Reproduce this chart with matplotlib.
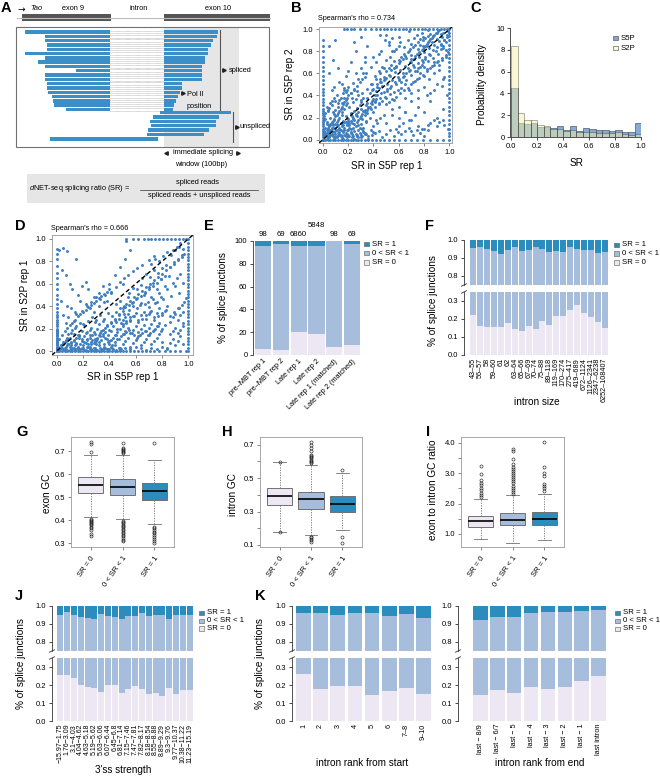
import numpy as np
import matplotlib
matplotlib.use('Agg')
import matplotlib.pyplot as plt
from matplotlib.patches import Rectangle
from matplotlib.ticker import FormatStrFormatter

plt.rcParams['font.family'] = ['Liberation Sans', 'DejaVu Sans']
plt.rcParams['mathtext.fontset'] = 'custom'
plt.rcParams['mathtext.rm'] = 'Liberation Sans'
plt.rcParams['mathtext.it'] = 'Liberation Sans:italic'

W, H = 660, 776

# ---------------- data ----------------
# A: schematic reads, start / end position in the drawing
spliced_start = [25, 45, 45, 47, 47, 25, 45, 38, 45, 76, 45, 45, 47, 47, 48, 52, 53, 54, 66]
spliced_end = [218, 217, 213, 211, 208, 208, 205, 205, 202, 202, 202, 202, 182, 182, 180, 178, 176, 174, 173]
unspliced_start = [160, 153, 150, 151, 148, 147, 50]
unspliced_end = [231, 219, 216, 216, 209, 204, 158]

# B: SR in S5P rep 1 (x) vs rep 2 (y), xxyy in hundredths
B_points = """0203 0305 0402 0506 0604 0708 0803 0907 1005 1109 1206 1310 1404 1512 1608 1711 1806 1914
2009 2113 2207 2315 2411 2518 2612 2716 2809 2920 3014 3119 3211 3322 3417 3524 0512 0715 0918 1116 1320
1502 1704 1902 2103 2305 2501 2704 2906 3103 3306 0410 0613 0811 1014 1218 1415 1617 1821 2019 2224 2321
2526 2729 2825 3028 3226 3431 3533 0825 1027 1230 1522 1728 1933 2130 2434 2637 2840 3036 3238 1002 1304
1607 1909 2210 2508 2813 3110 3416 3720 4012 4218 0620 0923 1525 1831 2338 2744 3142 3546 0316 0219 0121
0427 0330 0735 1140 1438 1843 2048 2451 0102 0204 0306 0108 0211 0314 0503 0705 0902 1103 1307 1501 1709
1905 2111 2302 2514 2703 2911 3208 0407 0609 0813 1011 1213 1409 1613 1816 2017 2222 2419 2623 2721 2931
3034 3327 3629 3833 4037 4135 4340 3538 3742 3945 4140 4348 4552 4749 4955 5150 5358 5554 5761 5957 6163
6360 6567 6765 6970 7168 3630 3935 4237 4433 4642 4939 5144 5347 5643 5850 6055 6252 6458 6654 6862 7059
4046 4350 4555 4857 5062 5265 5468 5671 5866 6072 6275 6478 6674 6880 7077 3850 4158 4462 4766 5072 5375
5680 3828 4130 4432 4735 5038 5341 5636 5945 6247 6550 6845 7152 7455 7760 7273 7478 7675 7881 8079 8285
8483 8688 8886 9091 9289 9493 9690 9895 7582 7786 7990 8192 8394 8596 8794 8997 9198 9396 9597 7766 7970
8173 8371 8577 8774 8980 9178 9382 9585 9788 7362 7565 7868 8264 8667 9070 9472 9775 8058 8455 8860 9263
9657 7292 7495 7897 8399 7087 6790 6484 6188 5882 5592 5286 4990 4680 0560 0872 1265 1550 1858 2270 2680
3065 3375 1090 0585 4025 4520 5015 5522 6012 6525 7018 7530 8025 8535 9020 9528 6538 7042 7545 8048 8542
9050 9555 6030 5528 4822 4315 5032 2545 2855 3260 2062 1745 1352 0948 0745 2588 3093 3585 4075 4270 5580
6085 5095 4595 8010 8515 9012 9518 7512 7008
0104 0206 0309 0411 0513 0614 0716 0817 0919 1021 1122 1224 1326 1428 1530 1632 1734 1836 1938 2040
0301 0502 0704 0901 1102 1305 1403 1601 1803 2004 2206 2403 2605 2802 3004 3207 3405 3603 3809 4007
0609 0711 1008 1113 1311 1514 1716 1913 2115 2217 2420 2622 2818 3021 3123 3325 3527 3730 3932 4134
0118 0224 0426 0529 0633 0731 0938 1035 1233 1336 1642 1747 1945 2242 2546 2749 2952 3155 3357 3460
2703 3002 3305 3601 3904 4106 4408 4702 5005 5309 5603 5907 6205 6508 6811 7104 7409 7706 8003 8309
4244 4447 4652 4854 5056 5259 5463 5665 5867 6069 6171 6373 6576 6779 6982 7184 7386 7588 7791 7993
4538 4843 5146 5449 5752 6054 6357 6660 6963 7266 7569 7872 8175 8478 8781 9084 9387 9690 9893 9998
8692 8895 9097 9299 8489 8287 8084 7985 9386 9583 9781 9979 7073 7376 7679 7982 8185 8388 8591 8794
5234 5537 5839 6142 6445 6747 7050 7353 7656 7959 8262 8565 8868 9171 9474 9777 3950 4255 4560 4865
1533 1738 2242 2660 3370 3866 4478 5288 6093 6898 7070 7462 8066 8870 9268 6020 6525 7035 7538 8240
8845 9449 9840 5810 6315 6818 7322 7810 8313 8818 9216 9613 9910"""
B_left_y = [0, 2, 4, 6, 8, 10, 12, 14, 16, 18, 20, 22, 24, 26, 28, 31, 34, 37, 40, 43, 46, 50, 54, 58, 62, 66,
            70, 75, 80, 85, 90]
B_bottom_x = [0, 2, 4, 6, 8, 10, 12, 14, 16, 18, 20, 22, 24, 26, 28, 30, 33, 36, 39, 42, 45, 48, 52, 56, 60,
              65, 70, 74, 79, 85, 90, 95]
B_top_x = [17, 19, 22, 25, 29, 33, 38, 42, 45, 48, 51, 54, 57, 60, 63, 66, 69, 72, 75, 78, 81, 84, 87, 90, 93,
           96, 98, 100]
B_right_y = [0, 3, 6, 10, 14, 18, 22, 26, 30, 34, 38, 42, 46, 50, 54, 58, 62, 66, 70, 74, 78, 82, 86, 90, 94, 97]

# D: SR in S5P rep 1 (x) vs S2P rep 1 (y)
D_points = """0201 0402 0603 0801 1004 1202 1405 1603 1806 2002 2207 2404 2608 2803 3009 3205 3410 3604 3811
4006 0305 0507 0709 0906 1108 1310 1507 1712 1909 2113 2311 2514 2710 2915 3112 3316 3513 3717 3914 4118
0403 0601 0805 1001 1203 1401 1604 1802 2005 2201 2406 2602 2807 3001 3208 3402 3606 3802 4009 4203 0710
1012 1315 1614 1918 2216 2519 2817 3120 3418 3721 4019 4322 4620 4925 0915 1219 1522 1825 2123 2427 2730
3028 3332 3629 3934 4231 4535 4838 5133 4205 4408 4611 4803 5006 5209 5412 5604 5807 6010 6213 6405 6608
6811 7014 7206 7409 7612 7815 8008 4414 4617 4820 5015 5218 5421 5616 5819 6022 6217 6420 6623 6818 7021
7224 7419 7622 7825 8020 8223 4526 4729 5028 5230 5433 5627 5831 6034 6228 6432 6635 6829 7033 7236 7430
7634 7838 8032 8236 8440 8403 8607 8811 9005 9209 9413 9606 8615 8818 9021 9216 9419 9622 8626 8830 9033
9228 9432 9635 4542 4845 5140 5448 5743 6046 6341 6650 6944 7248 7543 7852 8146 8455 8749 9058 9352 9661
5552 5856 6155 6459 6753 7057 7361 7655 7964 8258 8567 8861 9165 9469 6565 6869 7166 7472 7770 8074 8377
8675 8979 9282 9586 7278 7582 7880 8185 8488 8786 9090 9393 9691 5537 5840 6138 6443 6742 7039 7346 7644
7948 0290 0592 0889 1582 0472 0768 1060 1255 1650 1958 2262 2455 2848 3252 3558 3845 4152 2538 2242 1845
1435 1138 0840 0532 0345 2835 3240 3644 4060 4468 4875 5060 5282 5690 5398 0102 0201 0303 0502 0704 0906
1101 1303 1502 1701 1903 2101 2304 2502 2701 2903 3101 3303 3501 3703 3902 4104 4302 4501 4703 4902 0508
0812 1116 1421 1713 2024 2317 2621 2926 3224 3527 3822 4126 4429 4732 5024 5327 5630
0103 0305 0506 0709 0911 1107 1309 1512 1714 1911 2108 2310 2512 2714 2909 3111 3313 3515 3712 3908
4110 4312 4514 4711 4913 5115 5317 5519 5716 5914 6112 6314 6516 6718 6914 7116 7318 7520 7722 7918
0104 0608 1105 1506 2003 2504 3006 3502 4002 4405 4801 5203 5602 6004 6403 6801 7203 7602 8004 8402
0211 0414 0618 0821 1023 1225 1428 1631 1833 2035 2237 2439 2641 2843 3045 3247 3449 3651 3853 4055
5022 5325 5628 5931 6226 6529 6832 7135 7428 7731 8034 8337 8631 8935 9238 9541 9744 9847 9338 9625
5038 5342 5645 5948 6251 6554 6857 7160 7463 7766 8069 8372 8675 8978 9281 9584 9787 8890 9193 9496
0725 0930 1327 1533 1936 2340 2644 3048 3346 3750 4153 4557 4862 5165 5468 5871 6174 6577 7081 7485
2606 2911 3214 3519 3823 4125 4428 4733 5036 5239 5541 5844 6147 6449 6752 7055 7358 7661 7964 8267"""
D_left_y = [0, 1, 2, 3, 4, 5, 6, 7, 8, 9, 10, 11, 12, 13, 14, 15, 16, 17, 18, 19, 20, 22, 24, 26, 28, 30, 32,
            35, 38, 42, 46, 50, 55, 60, 65, 70, 76, 82, 87, 91]
D_bottom_x = [0, 2, 4, 6, 8, 10, 12, 14, 16, 18, 20, 22, 24, 26, 28, 30, 32, 34, 36, 38, 40, 42, 44, 46, 48,
              50, 53, 56, 59, 62, 65, 68, 71, 74, 78, 82, 86, 90, 94, 98]
D_top_x = [53, 58, 62, 66, 69, 72, 75, 78, 81, 84, 87, 90, 93, 96, 98, 100]
D_right_y = [0, 3, 6, 9, 12, 15, 18, 21, 24, 27, 30, 33, 36, 39, 42, 45, 48, 51, 54, 57, 60, 63, 66, 69, 72,
             75, 78, 81, 84, 87, 90, 93, 96]

# C: probability density of SR, 20 bins
c_s5p = [4.46, 1.30, 1.20, 1.25, 0.90, 0.95, 0.85, 1.00, 0.62, 1.05, 0.55, 0.85, 0.70, 0.68, 0.62,
         0.55, 0.60, 0.45, 0.48, 1.30]
c_s2p = [8.37, 2.20, 1.55, 1.55, 1.10, 1.05, 0.75, 0.70, 0.55, 0.60, 0.45, 0.45, 0.45, 0.38, 0.38,
         0.38, 0.42, 0.30, 0.20, 0.25]

# E: % of splice junctions per sample
e_labels = ['pre\u2013MBT rep 1', 'pre\u2013MBT rep 2', 'Late rep 1', 'Late rep 2',
            'Late rep 1 (matched)', 'Late rep 2 (matched)']
e_sr0 = [5.2, 4.4, 19.8, 18.4, 7.0, 8.7]
e_upper = [95.3, 97.4, 96.0, 95.3, 100.0, 97.4]
e_counts = ['98', '69', '6860', '5848', '98', '69']

# F: by intron size
f_labels = ['43\u201355', '56\u201357', '58', '59\u201360', '61', '62', '63\u201364', '65\u201366', '67\u201369',
            '70\u201374', '75\u201388', '89\u2013118', '119\u2013169', '170\u2013274', '275\u2013417',
            '419\u2013689', '672\u20131124', '1126\u20132341', '2347\u20136238', '6252\u2013108407']
f_sr0 = [0.22, 0.16, 0.155, 0.155, 0.155, 0.175, 0.145, 0.135, 0.16, 0.145, 0.19, 0.165, 0.215, 0.215,
         0.25, 0.275, 0.235, 0.21, 0.185, 0.15]
f_upper = [0.955, 0.96, 0.95, 0.94, 0.925, 0.945, 0.96, 0.94, 0.945, 0.96, 0.95, 0.935, 0.94, 0.935,
           0.96, 0.95, 0.945, 0.945, 0.93, 0.935]

# G/H/I: box plot statistics for SR = 0, 0 < SR < 1, SR = 1
box_labels = ['SR = 0', '0 < SR < 1', 'SR = 1']
g_q1 = [0.516, 0.509, 0.487]
g_med = [0.552, 0.545, 0.526]
g_q3 = [0.588, 0.578, 0.563]
g_lo = [0.412, 0.404, 0.383]
g_hi = [0.684, 0.684, 0.663]
g_fliers = [[0.33, 0.34, 0.355, 0.365, 0.372, 0.378, 0.383, 0.388, 0.392, 0.396, 0.40, 0.405, 0.696, 0.729, 0.739],
            [0.308, 0.315, 0.322, 0.33, 0.337, 0.343, 0.35, 0.356, 0.362, 0.368, 0.374, 0.38, 0.386, 0.392,
             0.397, 0.69, 0.695, 0.70, 0.705, 0.71, 0.715, 0.735],
            [0.30, 0.31, 0.318, 0.326, 0.334, 0.342, 0.35, 0.358, 0.365, 0.37, 0.735]]
h_q1 = [0.339, 0.316, 0.298]
h_med = [0.393, 0.373, 0.345]
h_q3 = [0.439, 0.419, 0.393]
h_lo = [0.18, 0.16, 0.19]
h_hi = [0.594, 0.578, 0.533]
h_fliers = [[0.176, 0.598],
            [0.12, 0.13, 0.137, 0.145, 0.15, 0.588, 0.595, 0.602, 0.61, 0.618, 0.625, 0.632, 0.638, 0.66, 0.68,
             0.70, 0.718],
            [0.114, 0.145, 0.55]]
i_q1 = [1.24, 1.28, 1.30]
i_med = [1.44, 1.46, 1.49]
i_q3 = [1.60, 1.69, 1.71]
i_lo = [0.84, 0.69, 0.80]
i_hi = [2.15, 2.29, 2.31]
i_fliers = [[2.2, 2.28, 2.36, 2.44, 2.52, 2.6, 2.68, 2.77, 2.96, 3.24],
            [2.31, 2.38, 2.45, 2.52, 2.59, 2.66, 2.73, 2.8, 2.87, 2.94, 3.01, 3.08, 3.14, 3.2, 3.3, 3.45, 3.73,
             3.81],
            [2.42, 2.5, 2.57, 2.64, 2.91, 3.02, 3.21, 4.02]]

# J: by 3'ss strength
j_labels = ['\u221215.97\u22121.75', '1.76\u22123.09', '3.1\u22124.03', '4.04\u22124.62', '4.63\u22125.18',
            '5.19\u22125.62', '5.63\u22126.06', '6.07\u22126.44', '6.45\u22126.8', '6.81\u22127.14',
            '7.15\u22127.46', '7.47\u22127.81', '7.82\u22128.17', '8.18\u22128.54', '8.55\u22128.88',
            '8.89\u22129.29', '9.3\u22129.76', '9.77\u221210.37', '10.38\u221211.22', '11.23\u221215.19']
j_sr0 = [0.254, 0.257, 0.239, 0.198, 0.189, 0.183, 0.161, 0.198, 0.20, 0.157, 0.176, 0.196, 0.178, 0.148,
         0.155, 0.137, 0.185, 0.152, 0.174, 0.172]
j_upper = [0.948, 0.967, 0.948, 0.939, 0.935, 0.93, 0.957, 0.943, 0.939, 0.93, 0.943, 0.944, 0.963, 0.944,
           0.952, 0.952, 0.93, 0.948, 0.952, 0.952]

# K: by intron rank
ks_labels = ['1', '2', '3', '4', '5', '6', '7\u20138', '9\u201310']
ks_sr0 = [0.263, 0.18, 0.193, 0.195, 0.145, 0.164, 0.182, 0.149]
ks_upper = [0.963, 0.961, 0.952, 0.963, 0.963, 0.946, 0.954, 0.933]
ke_labels = ['last \u2212 8/9', 'last \u2212 6/7', 'last \u2212 5', 'last \u2212 4', 'last \u2212 3',
             'last \u2212 2', 'last \u2212 1', 'last intron']
ke_sr0 = [0.145, 0.175, 0.158, 0.188, 0.18, 0.188, 0.221, 0.25]
ke_upper = [0.922, 0.939, 0.939, 0.961, 0.967, 0.969, 0.97, 0.98]

# ---------------- style ----------------
C0, C1, C2 = '#ece7f2', '#a6bddb', '#2b8cbe'
READ = '#3b8fc9'
DOT = '#3f80bf'
FS_LAB = 7.2
FS_TICK = 5.5
FS_LEG = 5.6

fig = plt.figure(figsize=(W / 100, H / 100), dpi=100)


def px_axes(x0, y0, x1, y1, **kw):
    return fig.add_axes([x0 / W, 1 - y1 / H, (x1 - x0) / W, (y1 - y0) / H], **kw)


ov = px_axes(0, 0, W, H, zorder=10)
ov.set_xlim(0, W)
ov.set_ylim(H, 0)
ov.axis('off')
ov.patch.set_visible(False)


def txt(x, y, s, size=FS_LAB, **kw):
    kw.setdefault('ha', 'center')
    kw.setdefault('va', 'center')
    ov.text(x, y, s, fontsize=size, **kw)


def sr_legend(x, y, dy):
    for i, (c, lab) in enumerate(zip([C2, C1, C0], ['SR = 1', '0 < SR < 1', 'SR = 0'])):
        ov.add_patch(Rectangle((x, y + i * dy - 2.3), 4.6, 4.6, fc=c, ec='#555555', lw=0.4))
        ov.text(x + 8, y + i * dy, lab, fontsize=FS_LEG, va='center', ha='left')


def parse_pairs(s):
    toks = s.split()
    return (np.array([int(t[:2]) for t in toks]) / 100, np.array([int(t[2:]) for t in toks]) / 100)


# ---------------- A: schematic ----------------
axA = px_axes(0, 0, 275, 210)
axA.set_xlim(0, 275)
axA.set_ylim(210, 0)
axA.axis('off')
axA.plot([17, 270], [17.5, 17.5], color='#bdbdbd', lw=0.8)
axA.add_patch(Rectangle((22, 14), 89, 7, color='#555555', lw=0))
axA.add_patch(Rectangle((164, 14), 106, 7, color='#555555', lw=0))
axA.text(17, 9, '\u2192', fontsize=6.5, va='center', family=['DejaVu Sans'])
axA.text(30, 9, 'Tao', fontsize=5.3, style='italic', va='center')
axA.text(73, 9, 'exon 9', fontsize=5.3, ha='center', va='center')
axA.text(139, 9, 'intron', fontsize=5.3, ha='center', va='center')
axA.text(218, 9, 'exon 10', fontsize=5.3, ha='center', va='center')
axA.add_patch(Rectangle((164, 27), 75, 120, color='#e6e6e6', lw=0))
ys = 32 + 4.3 * np.arange(len(spliced_start))
axA.barh(ys, 110 - np.array(spliced_start), left=spliced_start, height=3.4, color=READ)
axA.barh(ys, np.array(spliced_end) - 164, left=164, height=3.4, color=READ)
axA.hlines(ys - 1.2, 110, 164, colors='#8a8a8a', linestyles=(0, (1, 1)), lw=0.4)
axA.hlines(ys + 1.2, 110, 164, colors='#8a8a8a', linestyles=(0, (1, 1)), lw=0.4)
yu = 112.5 + 4.4 * np.arange(len(unspliced_start))
axA.barh(yu, np.array(unspliced_end) - np.array(unspliced_start), left=unspliced_start, height=3.4, color=READ)
axA.add_patch(Rectangle((16, 27), 253, 120, fill=False, ec='#707070', lw=0.8))
axA.plot([183], [93], marker='>', ms=2.5, color='#222222')
axA.text(187, 95, 'Pol II', fontsize=5.3, va='center')
axA.text(187, 106, 'position', fontsize=5.3, va='center')
axA.plot([220, 220], [30, 110], color='#555555', lw=0.8)
axA.plot([223.5], [70], marker='>', ms=2.5, color='#222222')
axA.text(229, 70, 'spliced', fontsize=5.3, va='center')
axA.plot([233, 233], [112, 142], color='#555555', lw=0.8)
axA.plot([236.5], [127], marker='>', ms=2.5, color='#222222')
axA.text(240, 127, 'unspliced', fontsize=5.3, va='center')
axA.plot([166], [153], marker='<', ms=2.5, color='#222222')
axA.plot([238], [153], marker='>', ms=2.5, color='#222222')
axA.text(203, 153, 'immediate splicing', fontsize=5.3, ha='center', va='center')
axA.text(201, 164, 'window (100bp)', fontsize=5.3, ha='center', va='center')
axA.add_patch(Rectangle((27, 174), 238, 29, color='#e6e6e6', lw=0))
axA.text(29, 188.5, r'$\it{d}$NET-seq splicing ratio (SR) =', fontsize=5.3, va='center')
axA.text(198, 183, 'spliced reads', fontsize=5.3, ha='center', va='center')
axA.plot([140, 258], [189.5, 189.5], color='#333333', lw=0.5)
axA.text(199, 195.5, 'spliced reads + unspliced reads', fontsize=5.3, ha='center', va='center')


# ---------------- B and D: scatter ----------------
def scatter_panel(rect, pts, left_y, bottom_x, top_x, right_y, lim):
    ax = px_axes(*rect)
    x, y = parse_pairs(pts)
    ly = np.array(left_y) / 100
    bx = np.array(bottom_x) / 100
    tx = np.array(top_x) / 100
    ry = np.array(right_y) / 100
    xs = np.concatenate([x, np.zeros_like(ly), bx, tx, np.ones_like(ry)])
    yv = np.concatenate([y, ly, np.zeros_like(bx), np.ones_like(tx), ry])
    ax.scatter(xs, yv, s=4.5, c=DOT, lw=0, zorder=2)
    ax.plot([lim[0], lim[1]], [lim[0], lim[1]], color='k', lw=1.0, ls=(0, (3, 2)), zorder=3)
    ax.set_xlim(*lim)
    ax.set_ylim(*lim)
    t = np.arange(0, 1.01, 0.2)
    ax.set_xticks(t)
    ax.set_yticks(t)
    ax.xaxis.set_major_formatter(FormatStrFormatter('%.1f'))
    ax.yaxis.set_major_formatter(FormatStrFormatter('%.1f'))
    ax.tick_params(length=2.5, width=0.5, labelsize=FS_TICK, pad=1.5, color='#555555')
    for s in ax.spines.values():
        s.set_color('#9a9a9a')
        s.set_linewidth(0.6)
    return ax


scatter_panel((319, 27, 452, 143), B_points, B_left_y, B_bottom_x, B_top_x, B_right_y, (-0.03, 1.02))
txt(318, 19, "Spearman's rho = 0.734", size=5.2, ha='left')
txt(290, 84, 'SR in S5P rep 2', rotation=90)
txt(387, 166, 'SR in S5P rep 1')

scatter_panel((52, 235, 193, 355), D_points, D_left_y, D_bottom_x, D_top_x, D_right_y, (-0.035, 1.035))
txt(51, 229, "Spearman's rho = 0.666", size=5.2, ha='left')
txt(25, 295, 'SR in S2P rep 1', rotation=90)
txt(123, 377, 'SR in S5P rep 1')

# ---------------- C: histogram ----------------
axC = px_axes(510, 28, 641, 137)
edges = np.linspace(0, 1, len(c_s5p) + 1)
axC.bar(edges[:-1], c_s5p, width=0.05, align='edge', color='#6f9dd2', alpha=0.85, ec='#444444', lw=0.5)
axC.bar(edges[:-1], c_s2p, width=0.05, align='edge', color='#f5f0aa', alpha=0.5, ec='#222222', lw=0.5)
axC.set_xlim(-0.008, 1.0)
axC.set_ylim(0, 10)
axC.set_xticks(np.arange(0, 1.01, 0.2))
axC.set_yticks(np.arange(0, 11, 2))
axC.xaxis.set_major_formatter(FormatStrFormatter('%.1f'))
axC.spines['top'].set_visible(False)
axC.spines['right'].set_visible(False)
axC.spines['bottom'].set_bounds(0, 1)
for s in ('left', 'bottom'):
    axC.spines[s].set_linewidth(0.6)
    axC.spines[s].set_color('#333333')
axC.tick_params(length=2.5, width=0.5, labelsize=FS_TICK, pad=1.5)
ov.add_patch(Rectangle((613, 35.7), 4.6, 4.6, fc='#7fa6d3', ec='#444444', lw=0.4))
ov.add_patch(Rectangle((613, 45.7), 4.6, 4.6, fc='#fbf9dc', ec='#444444', lw=0.4))
txt(621, 38, 'S5P', size=FS_LEG, ha='left')
txt(621, 48, 'S2P', size=FS_LEG, ha='left')
txt(482, 84, 'Probability density', rotation=90)
txt(577, 163, 'SR')

# ---------------- E: stacked bars ----------------
axE = px_axes(253, 241, 362, 355)
xe = np.arange(len(e_sr0))
e0 = np.array(e_sr0)
eu = np.array(e_upper)
axE.bar(xe, e0, width=0.9, color=C0)
axE.bar(xe, eu - e0, bottom=e0, width=0.9, color=C1)
axE.bar(xe, 100 - eu, bottom=eu, width=0.9, color=C2)
for i, c in enumerate(e_counts):
    axE.text(i, 110.5 if c == '5848' else 103, c, ha='center', va='bottom', fontsize=FS_LEG, clip_on=False)
axE.set_xlim(-0.5 - 1 / 17.7, 5.55)
axE.set_ylim(0, 100)
axE.set_yticks(np.arange(0, 101, 20))
axE.set_xticks(xe)
axE.set_xticklabels(e_labels, rotation=45, ha='right', va='top', rotation_mode='anchor', fontsize=5.3)
axE.tick_params(axis='x', length=0, pad=2)
axE.tick_params(axis='y', length=2.5, width=0.5, labelsize=FS_TICK, pad=1.5)
for s in ('top', 'right', 'bottom'):
    axE.spines[s].set_visible(False)
axE.spines['left'].set_linewidth(0.6)
axE.spines['left'].set_color('#333333')
sr_legend(364, 244, 9.2)
txt(223, 298, '% of splice junctions', rotation=90)


# ---------------- broken-axis stacked bars (F, J, K) ----------------
def stacked_broken(x_spine, xb0, xb1, y_top, y_b1, y_b2, y_bot, sr0, upper, labels, lab_size=5.2):
    n = len(sr0)
    slot = (xb1 - xb0) / n
    lo = -0.5 - (xb0 - x_spine) / slot
    hi = n - 0.5 + 0.1
    xr = xb1 + 0.1 * slot
    top = px_axes(x_spine, y_top, xr, y_b1)
    bot = px_axes(x_spine, y_b2, xr, y_bot)
    sr0 = np.asarray(sr0)
    upper = np.asarray(upper)
    x = np.arange(n)
    for ax in (top, bot):
        ax.bar(x, sr0, width=0.86, color=C0)
        ax.bar(x, upper - sr0, bottom=sr0, width=0.86, color=C1)
        ax.bar(x, 1 - upper, bottom=upper, width=0.86, color=C2)
        ax.set_xlim(lo, hi)
        for s in ('top', 'right', 'bottom'):
            ax.spines[s].set_visible(False)
        ax.spines['left'].set_linewidth(0.6)
        ax.spines['left'].set_color('#333333')
        ax.tick_params(axis='y', length=2.5, width=0.5, labelsize=FS_TICK, pad=1.5)
        ax.yaxis.set_major_formatter(FormatStrFormatter('%.1f'))
    top.set_ylim(0.75, 1.0)
    top.set_yticks([0.8, 0.9, 1.0])
    top.set_xticks([])
    bot.set_ylim(0, 0.35)
    bot.set_yticks([0, 0.1, 0.2, 0.3])
    bot.set_xticks(x)
    bot.set_xticklabels(labels, rotation=90, fontsize=lab_size)
    bot.tick_params(axis='x', length=0, pad=2)
    for yb in (y_b1, y_b2):
        ov.plot([x_spine - 2.5, x_spine + 2.5], [yb + 1.2, yb - 1.2], color='#333333', lw=0.6)
    return top, bot


stacked_broken(464, 470, 608, 240, 285, 292, 355, f_sr0, f_upper, f_labels)
sr_legend(614, 245, 8.6)
txt(433, 301, '% of splice junctions', rotation=90)
txt(537, 402, 'intron size')

stacked_broken(52, 57, 193, 606, 651, 658, 721, j_sr0, j_upper, j_labels, lab_size=5.0)
sr_legend(199, 613, 7.8)
txt(21, 664, '% of splice junctions', rotation=90)
txt(123, 770, "3'ss strength")

stacked_broken(292, 295, 432, 606, 651, 658, 721, ks_sr0, ks_upper, ks_labels)
stacked_broken(458, 472, 607, 606, 651, 658, 721, ke_sr0, ke_upper, ke_labels)
sr_legend(615, 613, 8.0)
txt(260, 664, '% of splice junctions', rotation=90)
txt(362, 763, 'intron rank from start')
txt(540, 763, 'intron rank from end')


# ---------------- G, H, I: box plots ----------------
def box_panel(rect, q1, med, q3, lo, hi, fliers, ylim, yticks, ylabels):
    ax = px_axes(*rect)
    stats = [dict(q1=q1[i], med=med[i], q3=q3[i], whislo=lo[i], whishi=hi[i], fliers=fliers[i])
             for i in range(3)]
    bp = ax.bxp(stats, positions=[1, 2, 3], widths=0.8, patch_artist=True, capwidths=0.4,
                boxprops=dict(edgecolor='#707070', linewidth=0.7),
                whiskerprops=dict(color='#707070', linestyle=(0, (1.5, 1.5)), linewidth=0.6),
                capprops=dict(color='#707070', linewidth=0.6),
                medianprops=dict(color='k', linewidth=1.2),
                flierprops=dict(marker='o', markersize=2.2, markerfacecolor='none',
                                markeredgecolor='#222222', markeredgewidth=0.45))
    for patch, c in zip(bp['boxes'], [C0, C1, C2]):
        patch.set_facecolor(c)
    ax.set_xlim(0.38, 3.62)
    ax.set_ylim(*ylim)
    ax.set_yticks(yticks)
    ax.set_yticklabels(ylabels)
    ax.set_xticks([1, 2, 3])
    ax.set_xticklabels(box_labels, rotation=55, ha='right', va='top', rotation_mode='anchor', fontsize=5.5)
    ax.tick_params(length=2.5, width=0.5, labelsize=FS_TICK, pad=1.5, color='#555555')
    ax.tick_params(axis='x', pad=3)
    for s in ax.spines.values():
        s.set_color('#9a9a9a')
        s.set_linewidth(0.6)
    return ax


box_panel((71, 437, 174, 547), g_q1, g_med, g_q3, g_lo, g_hi, g_fliers, (0.283, 0.761),
          [0.3, 0.4, 0.5, 0.6, 0.7], ['0.3', '0.4', '0.5', '0.6', '0.7'])
txt(47, 493, 'exon GC', rotation=90)
box_panel((260, 437, 362, 547), h_q1, h_med, h_q3, h_lo, h_hi, h_fliers, (0.088, 0.746),
          [0.1, 0.2, 0.3, 0.4, 0.5, 0.6, 0.7], ['0.1', '', '0.3', '', '0.5', '', '0.7'])
txt(233, 495, 'intron GC', rotation=90)
box_panel((461, 437, 564, 547), i_q1, i_med, i_q3, i_lo, i_hi, i_fliers, (0.57, 4.19),
          [1.0, 1.5, 2.0, 2.5, 3.0, 3.5, 4.0], ['1.0', '', '2.0', '', '3.0', '', '4.0'])
txt(433, 490, 'exon to intron GC ratio', rotation=90)

# ---------------- panel letters ----------------
for lab, (x, y) in {'A': (6, 8), 'B': (296, 8), 'C': (476, 8), 'D': (20, 226), 'E': (209, 226),
                    'F': (430, 226), 'G': (22, 432), 'H': (227, 432), 'I': (428, 432),
                    'J': (19, 596), 'K': (260, 596)}.items():
    txt(x, y, lab, size=10.5, weight='bold')

fig.savefig('out.png', dpi=100)
